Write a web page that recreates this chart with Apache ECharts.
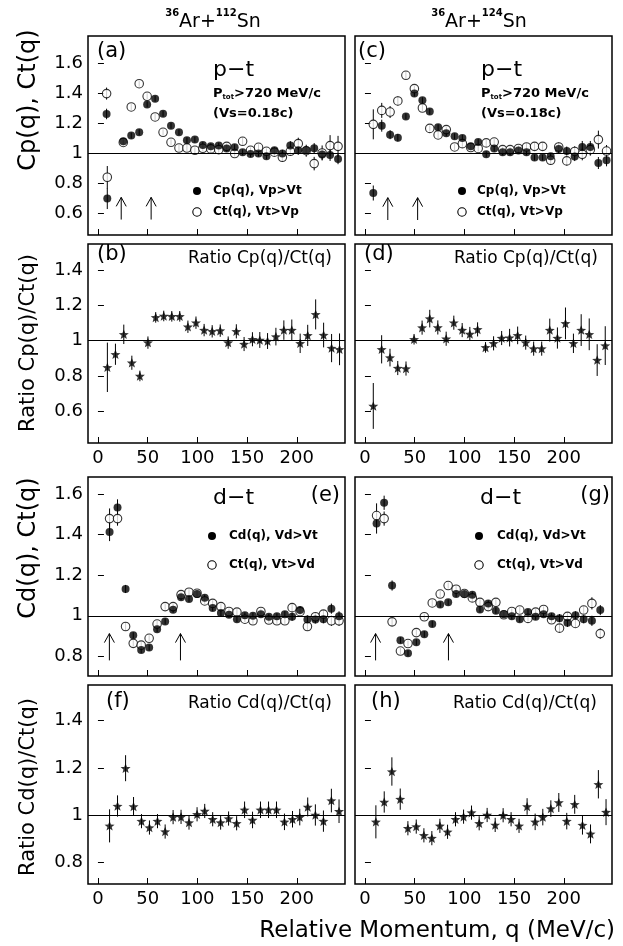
<!DOCTYPE html>
<html><head><meta charset="utf-8">
<script src="https://cdn.jsdelivr.net/npm/echarts@6/dist/echarts.min.js"></script>
<style>html,body{margin:0;padding:0;background:#fff}#c{width:623px;height:946px}</style>
</head><body><div id="c"></div>
<script>
// ---------------- data ----------------
const xTicks = [0, 50, 100, 150, 200];
const yTicksPT = [0.6, 0.8, 1, 1.2, 1.4, 1.6];
const yTicksPTratio = [0.6, 0.8, 1, 1.2, 1.4];
const yTicksDT = [0.8, 1, 1.2, 1.4, 1.6];
const yTicksDTratio = [0.8, 1, 1.2, 1.4];

// (a) 36Ar+112Sn  p-t
const qA = [9.4, 8.7, 25.5, 33.5, 41.5, 49.5, 57.5, 65.5, 73.5, 81.5, 89.5, 97.5, 105.5, 113.5, 121.5, 129.5, 137.5, 145.5, 153.5, 161.5, 169.5, 177.5, 185.5, 193.5, 201.5, 209.5, 217.5, 225.5, 233.5, 241.5];
const cpA = [0.696, 1.26, 1.078, 1.116, 1.138, 1.324, 1.362, 1.262, 1.182, 1.138, 1.084, 1.089, 1.053, 1.044, 1.049, 1.029, 1.038, 1.004, 0.993, 0.996, 0.978, 1.018, 0.996, 1.049, 1.018, 1.018, 1.031, 0.989, 0.987, 0.96];
const cpAerr = [0.07, 0.035, 0.02, 0.02, 0.02, 0.02, 0.02, 0.02, 0.02, 0.02, 0.02, 0.02, 0.02, 0.02, 0.02, 0.02, 0.02, 0.02, 0.02, 0.02, 0.02, 0.02, 0.025, 0.03, 0.03, 0.03, 0.035, 0.035, 0.04, 0.035];
const ctA = [0.838, 1.396, 1.07, 1.307, 1.462, 1.378, 1.24, 1.138, 1.071, 1.033, 1.033, 1.018, 1.031, 1.027, 1.022, 1.044, 0.996, 1.078, 1.018, 1.038, 1.011, 1.005, 0.971, 1.011, 1.062, 1.015, 0.929, 1.0, 1.049, 1.044];
const ctAerr = [0.075, 0.04, 0.02, 0.02, 0.02, 0.02, 0.02, 0.02, 0.02, 0.02, 0.02, 0.02, 0.02, 0.02, 0.02, 0.02, 0.02, 0.025, 0.02, 0.02, 0.02, 0.025, 0.03, 0.03, 0.04, 0.04, 0.045, 0.05, 0.07, 0.07];

// (c) 36Ar+124Sn  p-t
const qC = [8.4, 16.9, 25.3, 33.1, 41.2, 49.7, 57.8, 65.2, 73.6, 81.8, 90.2, 98, 106.4, 113.9, 122, 130, 138.5, 146, 154.4, 162.5, 170.6, 178.7, 186.8, 194.9, 203, 211, 218.6, 226.7, 234.8, 243];
const cpC = [0.733, 1.182, 1.122, 1.102, 1.244, 1.396, 1.351, 1.276, 1.171, 1.131, 1.111, 1.1, 1.044, 1.073, 0.991, 1.029, 1.004, 1.004, 1.016, 1.004, 0.969, 0.969, 0.978, 1.027, 1.013, 0.976, 1.04, 1.04, 0.933, 0.951];
const cpCerr = [0.05, 0.04, 0.03, 0.025, 0.02, 0.02, 0.02, 0.02, 0.02, 0.02, 0.02, 0.02, 0.02, 0.02, 0.02, 0.02, 0.02, 0.02, 0.02, 0.02, 0.02, 0.02, 0.02, 0.03, 0.03, 0.03, 0.04, 0.04, 0.04, 0.04];
const ctC = [1.191, 1.284, 1.273, 1.347, 1.518, 1.429, 1.3, 1.164, 1.12, 1.156, 1.04, 1.062, 1.036, 1.03, 1.067, 1.073, 1.022, 1.022, 1.03, 1.04, 1.044, 1.044, 0.951, 1.04, 0.947, 1.01, 0.991, 1.022, 1.089, 1.013];
const ctCerr = [0.1, 0.05, 0.04, 0.03, 0.025, 0.02, 0.02, 0.02, 0.02, 0.02, 0.02, 0.02, 0.02, 0.02, 0.02, 0.02, 0.02, 0.02, 0.02, 0.025, 0.025, 0.025, 0.03, 0.03, 0.03, 0.035, 0.04, 0.04, 0.06, 0.04];

// (b) ratio Cp/Ct, 112Sn
const qB = [9.5, 17.6, 26, 34.1, 42.2, 50.3, 58.1, 66.2, 74.3, 82.3, 90.5, 98.6, 106.8, 114.9, 123, 131, 139.2, 147, 155.4, 162.8, 170.6, 179, 187, 195, 203.4, 211, 219, 227, 235, 243];
const ratioB = [0.849, 0.923, 1.036, 0.875, 0.8, 0.989, 1.132, 1.14, 1.138, 1.138, 1.079, 1.102, 1.06, 1.053, 1.057, 0.989, 1.053, 0.981, 1.008, 1.004, 0.998, 1.023, 1.06, 1.06, 0.985, 1.03, 1.149, 1.032, 0.958, 0.951];
const ratioBerr = [0.14, 0.06, 0.055, 0.04, 0.03, 0.035, 0.03, 0.03, 0.03, 0.03, 0.035, 0.035, 0.035, 0.035, 0.035, 0.035, 0.04, 0.04, 0.04, 0.045, 0.045, 0.05, 0.055, 0.06, 0.055, 0.06, 0.085, 0.07, 0.08, 0.09];

// (d) ratio Cp/Ct, 124Sn
const qD = [8.4, 16.8, 25.2, 33, 41.3, 49.4, 57.5, 65.2, 73.3, 81.7, 89.4, 97.8, 105.5, 113.3, 121.3, 129.4, 137.5, 145.5, 153.6, 161.7, 169.7, 177.8, 185.9, 193.6, 201.7, 209.7, 217.5, 225.6, 233.6, 241.7];
const ratioD = [0.63, 0.951, 0.904, 0.845, 0.842, 1.008, 1.074, 1.125, 1.075, 1.011, 1.102, 1.06, 1.038, 1.064, 0.962, 0.985, 1.015, 1.017, 1.03, 0.989, 0.955, 0.955, 1.06, 1.015, 1.098, 0.985, 1.06, 1.036, 0.89, 0.972];
const ratioDerr = [0.13, 0.08, 0.05, 0.04, 0.04, 0.03, 0.04, 0.05, 0.04, 0.04, 0.04, 0.04, 0.04, 0.04, 0.03, 0.04, 0.04, 0.05, 0.05, 0.04, 0.04, 0.04, 0.065, 0.06, 0.09, 0.055, 0.09, 0.09, 0.09, 0.11];

// (e) 36Ar+112Sn  d-t
const qE = [11.7, 19.7, 27.8, 35.5, 43.5, 51.5, 59.5, 67.6, 75.6, 83.6, 91.6, 99.7, 107.4, 115.4, 123.7, 131.8, 139.8, 147.8, 155.9, 163.9, 171.9, 180, 188, 195.3, 203.3, 210.7, 218.7, 226.8, 234.8, 242.5];
const cdE = [1.413, 1.534, 1.132, 0.904, 0.831, 0.843, 0.934, 0.972, 1.03, 1.091, 1.083, 1.107, 1.089, 1.038, 1.013, 1.005, 0.983, 1.002, 1.0, 1.008, 0.995, 0.997, 1.008, 0.995, 1.028, 0.982, 0.982, 0.983, 1.035, 0.997];
const cdEerr = [0.045, 0.04, 0.02, 0.015, 0.015, 0.015, 0.015, 0.015, 0.015, 0.015, 0.015, 0.015, 0.015, 0.015, 0.015, 0.015, 0.015, 0.015, 0.015, 0.015, 0.015, 0.015, 0.015, 0.02, 0.02, 0.02, 0.02, 0.02, 0.025, 0.025];
const ctE = [1.479, 1.479, 0.947, 0.864, 0.855, 0.889, 0.959, 1.045, 1.045, 1.104, 1.116, 1.111, 1.073, 1.061, 1.045, 1.021, 1.018, 0.983, 0.975, 1.021, 0.979, 0.975, 0.975, 1.04, 1.02, 0.947, 0.995, 1.008, 0.975, 0.975];
const ctEerr = [0.05, 0.035, 0.02, 0.015, 0.015, 0.015, 0.015, 0.015, 0.015, 0.015, 0.015, 0.015, 0.015, 0.015, 0.015, 0.015, 0.015, 0.015, 0.015, 0.015, 0.015, 0.015, 0.015, 0.02, 0.02, 0.02, 0.02, 0.02, 0.025, 0.025];

// (g) 36Ar+124Sn  d-t
const qG = [11.7, 19.3, 27.3, 35.7, 43.3, 51.7, 59.7, 67.7, 75.7, 83.7, 91.7, 100, 108, 115.7, 124, 131.7, 139.7, 147.7, 155.7, 164, 171.7, 179.7, 187.7, 195.7, 203.7, 211.7, 220, 228.3, 236.7];
const cdG = [1.455, 1.557, 1.149, 0.879, 0.815, 0.869, 0.909, 0.959, 1.055, 1.066, 1.107, 1.107, 1.104, 1.031, 1.061, 1.025, 1.008, 0.997, 0.983, 1.018, 0.995, 1.008, 0.998, 0.988, 0.965, 1.002, 0.983, 0.975, 1.028];
const cdGerr = [0.05, 0.035, 0.025, 0.015, 0.015, 0.015, 0.015, 0.015, 0.015, 0.015, 0.015, 0.015, 0.015, 0.015, 0.015, 0.015, 0.015, 0.015, 0.015, 0.015, 0.015, 0.015, 0.015, 0.02, 0.02, 0.02, 0.02, 0.025, 0.025];
const ctG = [1.494, 1.479, 0.97, 0.826, 0.863, 0.917, 0.995, 1.063, 1.107, 1.149, 1.131, 1.11, 1.088, 1.066, 1.045, 1.066, 1.005, 1.021, 1.028, 0.987, 1.018, 1.031, 0.98, 0.939, 0.997, 0.962, 1.028, 1.061, 0.912];
const ctGerr = [0.06, 0.035, 0.02, 0.015, 0.015, 0.015, 0.015, 0.015, 0.015, 0.015, 0.015, 0.015, 0.015, 0.015, 0.015, 0.015, 0.015, 0.015, 0.015, 0.015, 0.015, 0.015, 0.015, 0.02, 0.02, 0.02, 0.02, 0.03, 0.025];

// (f) ratio Cd/Ct, 112Sn
const qF = [11.7, 19.7, 27.8, 35.8, 43.8, 51.8, 59.9, 67.6, 75.6, 83.6, 91.6, 99.7, 107.4, 115.4, 123.4, 131.4, 139.5, 147.5, 155.5, 163.5, 171.6, 179.6, 187.6, 195.7, 203, 211, 218.7, 226.8, 234.8, 242.5];
const ratioF = [0.955, 1.039, 1.199, 1.037, 0.975, 0.948, 0.975, 0.931, 0.992, 0.993, 0.969, 1.004, 1.018, 0.983, 0.969, 0.986, 0.966, 1.023, 0.98, 1.023, 1.023, 1.023, 0.972, 0.983, 0.992, 1.035, 1.001, 0.975, 1.062, 1.017];
const ratioFerr = [0.07, 0.045, 0.055, 0.04, 0.03, 0.03, 0.03, 0.03, 0.03, 0.03, 0.03, 0.03, 0.03, 0.03, 0.03, 0.03, 0.03, 0.035, 0.035, 0.035, 0.035, 0.035, 0.035, 0.035, 0.035, 0.04, 0.045, 0.045, 0.05, 0.05];

// (h) ratio Cd/Ct, 124Sn
const qH = [11, 19.4, 27.1, 35.5, 43.2, 51.6, 59.3, 67.3, 75.4, 83.1, 91.1, 99.2, 107.2, 114.9, 122.9, 131, 139, 147, 155, 163.1, 171.2, 178.9, 187, 195, 203, 211, 218.8, 226.9, 234.8, 242.5];
const ratioH = [0.972, 1.056, 1.185, 1.068, 0.945, 0.952, 0.915, 0.903, 0.955, 0.93, 0.983, 0.994, 1.011, 0.966, 1.001, 0.959, 1.0, 0.983, 0.955, 1.037, 0.972, 0.992, 1.028, 1.054, 0.975, 1.046, 0.958, 0.921, 1.131, 1.013];
const ratioHerr = [0.07, 0.045, 0.06, 0.045, 0.03, 0.03, 0.03, 0.03, 0.03, 0.03, 0.03, 0.03, 0.03, 0.03, 0.03, 0.03, 0.03, 0.03, 0.03, 0.035, 0.035, 0.035, 0.035, 0.04, 0.035, 0.04, 0.04, 0.04, 0.06, 0.055];

// arrows: [q, y from, y to]
const arrowsA = [[23.4, 0.556, 0.704], [53.5, 0.556, 0.704]];
const arrowsC = [[23, 0.553, 0.702], [53, 0.553, 0.702]];
const arrowsE = [[11.5, 0.78, 0.912], [83, 0.78, 0.912]];
const arrowsG = [[10.7, 0.78, 0.912], [84, 0.78, 0.912]];

// ---------------- chart ----------------
const FONT = 'DejaVu Sans';
const X_MIN = -10, X_MAX = 248.5;
const STAR = 'path://M0,-10 L2.6,-3.4 L9.51,-3.09 L4.1,1.3 L5.88,8.09 L0,4.3 L-5.88,8.09 L-4.1,1.3 L-9.51,-3.09 L-2.6,-3.4 Z';

// grid boxes: a, c, b, d, e, g, f, h
const W = 257, H = 199;
const gridPos = [[88, 36], [355, 36], [88, 244], [355, 244], [88, 477], [355, 477], [88, 685], [355, 685]];
const yRange = [[0.453, 1.78], [0.453, 1.78], [0.42, 1.548], [0.42, 1.548], [0.703, 1.684], [0.703, 1.684], [0.709, 1.551], [0.709, 1.551]];
const yTk = [yTicksPT, yTicksPT, yTicksPTratio, yTicksPTratio, yTicksDT, yTicksDT, yTicksDTratio, yTicksDTratio];
const xLab = [false, false, true, true, false, false, true, true];

const grids = gridPos.map(p => ({left: p[0], top: p[1], width: W, height: H, show: true, borderColor: '#000', borderWidth: 1.5, backgroundColor: 'transparent', containLabel: false}));
const xAxes = gridPos.map((p, i) => ({
  type: 'value', gridIndex: i, min: X_MIN, max: X_MAX,
  axisLine: {show: false}, splitLine: {show: false},
  axisTick: {show: true, inside: true, length: 6, customValues: xTicks, lineStyle: {color: '#000', width: 1}},
  axisLabel: {show: xLab[i], customValues: xTicks, color: '#000', fontSize: 18, fontFamily: FONT, margin: 6}
}));
const yAxes = gridPos.map((p, i) => ({
  type: 'value', gridIndex: i, min: yRange[i][0], max: yRange[i][1],
  axisLine: {show: false}, splitLine: {show: false},
  axisTick: {show: true, inside: true, length: 6, customValues: yTk[i], lineStyle: {color: '#000', width: 1}},
  axisLabel: {show: i % 2 === 0, customValues: yTk[i], color: '#000', fontSize: 18, fontFamily: FONT, margin: 5,
    formatter: v => String(Math.round(v * 10) / 10)}
}));

function errSeries(gi, q, v, e, withLine) {
  const s = {
    type: 'custom', xAxisIndex: gi, yAxisIndex: gi, silent: true, z: 2, clip: true,
    data: q.map((x, i) => [x, v[i] - e[i], v[i] + e[i]]),
    encode: {x: 0, y: [1, 2]},
    renderItem: (params, api) => {
      const p1 = api.coord([api.value(0), api.value(1)]);
      const p2 = api.coord([api.value(0), api.value(2)]);
      return {type: 'line', shape: {x1: p1[0], y1: p1[1], x2: p2[0], y2: p2[1]}, style: {stroke: '#000', lineWidth: 1}};
    }
  };
  if (withLine) {
    s.markLine = {silent: true, symbol: 'none', label: {show: false}, animation: false,
      lineStyle: {color: '#000', width: 1.2, type: 'solid'}, data: [{yAxis: 1}]};
  }
  return s;
}
function pts(gi, q, v, kind) {
  const base = {type: 'scatter', xAxisIndex: gi, yAxisIndex: gi, silent: true, data: q.map((x, i) => [x, v[i]])};
  if (kind === 'fill') return Object.assign(base, {symbol: 'circle', symbolSize: 8, itemStyle: {color: '#000'}, z: 4});
  if (kind === 'open') return Object.assign(base, {symbol: 'circle', symbolSize: 8.5, itemStyle: {color: '#fff', borderColor: '#000', borderWidth: 1.1}, z: 3});
  return Object.assign(base, {symbol: STAR, symbolKeepAspect: true, symbolSize: 10, itemStyle: {color: '#000'}, z: 4});
}
function arrows(gi, list) {
  return {
    type: 'custom', xAxisIndex: gi, yAxisIndex: gi, silent: true, z: 2,
    data: list, encode: {x: 0, y: [1, 2]},
    renderItem: (params, api) => {
      const b = api.coord([api.value(0), api.value(1)]);
      const t = api.coord([api.value(0), api.value(2)]);
      const st = {stroke: '#000', lineWidth: 1};
      return {type: 'group', children: [
        {type: 'line', shape: {x1: b[0], y1: b[1], x2: t[0], y2: t[1]}, style: st},
        {type: 'line', shape: {x1: t[0], y1: t[1], x2: t[0] - 5, y2: t[1] + 9}, style: st},
        {type: 'line', shape: {x1: t[0], y1: t[1], x2: t[0] + 5, y2: t[1] + 9}, style: st}
      ]};
    }
  };
}

const series = [
  // (a)
  errSeries(0, qA, ctA, ctAerr, true), errSeries(0, qA, cpA, cpAerr, false),
  pts(0, qA, ctA, 'open'), pts(0, qA, cpA, 'fill'), arrows(0, arrowsA),
  // (c)
  errSeries(1, qC, ctC, ctCerr, true), errSeries(1, qC, cpC, cpCerr, false),
  pts(1, qC, ctC, 'open'), pts(1, qC, cpC, 'fill'), arrows(1, arrowsC),
  // (b)
  errSeries(2, qB, ratioB, ratioBerr, true), pts(2, qB, ratioB, 'star'),
  // (d)
  errSeries(3, qD, ratioD, ratioDerr, true), pts(3, qD, ratioD, 'star'),
  // (e)
  errSeries(4, qE, ctE, ctEerr, true), errSeries(4, qE, cdE, cdEerr, false),
  pts(4, qE, ctE, 'open'), pts(4, qE, cdE, 'fill'), arrows(4, arrowsE),
  // (g)
  errSeries(5, qG, ctG, ctGerr, true), errSeries(5, qG, cdG, cdGerr, false),
  pts(5, qG, ctG, 'open'), pts(5, qG, cdG, 'fill'), arrows(5, arrowsG),
  // (f)
  errSeries(6, qF, ratioF, ratioFerr, true), pts(6, qF, ratioF, 'star'),
  // (h)
  errSeries(7, qH, ratioH, ratioHerr, true), pts(7, qH, ratioH, 'star')
];

// ---------------- text ----------------
function txt(x, y, text, size, opts) {
  opts = opts || {};
  return {type: 'text', x: x, y: y, silent: true, rotation: opts.rot || 0, z: 10,
    style: {text: text, fontSize: size, fontFamily: FONT, fontWeight: opts.bold ? 'bold' : 'normal', fill: '#000',
      align: opts.align || 'left', verticalAlign: opts.va || 'middle', rich: opts.rich}};
}
const supRich = {
  b: {fontSize: 19, fontFamily: FONT, lineHeight: 24, verticalAlign: 'bottom'},
  s: {fontSize: 10, fontFamily: FONT, fontWeight: 'bold', lineHeight: 24, verticalAlign: 'top'}
};
const subRich = {
  n: {fontSize: 13, fontFamily: FONT, fontWeight: 'bold'},
  t: {fontSize: 7, fontFamily: FONT, fontWeight: 'bold', verticalAlign: 'bottom', padding: [6, 0, 0, 0]}
};
const graphics = [
  txt(213, 20, '{s|36}{b|Ar+}{s|112}{b|Sn}', 19, {align: 'center', rich: supRich}),
  txt(479, 20, '{s|36}{b|Ar+}{s|124}{b|Sn}', 19, {align: 'center', rich: supRich}),
  // y titles
  txt(29, 100, 'Cp(q), Ct(q)', 24, {align: 'center', rot: Math.PI / 2}),
  txt(29, 343, 'Ratio Cp(q)/Ct(q)', 21, {align: 'center', rot: Math.PI / 2}),
  txt(29, 548, 'Cd(q), Ct(q)', 24, {align: 'center', rot: Math.PI / 2}),
  txt(29, 787, 'Ratio Cd(q)/Ct(q)', 21, {align: 'center', rot: Math.PI / 2}),
  // x title
  txt(615, 931, 'Relative Momentum, q (MeV/c)', 23, {align: 'right'}),
  // panel (a)
  txt(97, 52, '(a)', 21), txt(213, 70, 'p\u2212t', 22),
  txt(213, 94, '{n|P}{t|tot}{n|>720 MeV/c}', 13, {rich: subRich}),
  txt(213, 114, '(Vs=0.18c)', 13, {bold: true}),
  txt(213, 191, 'Cp(q), Vp>Vt', 12, {bold: true}),
  txt(213, 212, 'Ct(q), Vt>Vp', 12, {bold: true}),
  // panel (c)
  txt(358, 52, '(c)', 21), txt(481, 70, 'p\u2212t', 22),
  txt(481, 94, '{n|P}{t|tot}{n|>720 MeV/c}', 13, {rich: subRich}),
  txt(481, 114, '(Vs=0.18c)', 13, {bold: true}),
  txt(477, 191, 'Cp(q), Vp>Vt', 12, {bold: true}),
  txt(477, 212, 'Ct(q), Vt>Vp', 12, {bold: true}),
  // panel (b), (d)
  txt(97, 255, '(b)', 21), txt(332, 259, 'Ratio Cp(q)/Ct(q)', 17, {align: 'right'}),
  txt(364, 255, '(d)', 21), txt(598, 259, 'Ratio Cp(q)/Ct(q)', 17, {align: 'right'}),
  // panel (e)
  txt(340, 496, '(e)', 21, {align: 'right'}), txt(213, 498, 'd\u2212t', 22),
  txt(229, 536, 'Cd(q), Vd>Vt', 12, {bold: true}),
  txt(229, 565, 'Ct(q), Vt>Vd', 12, {bold: true}),
  // panel (g)
  txt(610, 496, '(g)', 21, {align: 'right'}), txt(480, 498, 'd\u2212t', 22),
  txt(497, 536, 'Cd(q), Vd>Vt', 12, {bold: true}),
  txt(497, 565, 'Ct(q), Vt>Vd', 12, {bold: true}),
  // panel (f), (h)
  txt(106, 702, '(f)', 21), txt(332, 704, 'Ratio Cd(q)/Ct(q)', 17, {align: 'right'}),
  txt(371, 702, '(h)', 21), txt(597, 704, 'Ratio Cd(q)/Ct(q)', 17, {align: 'right'}),
  // legend symbols
  {type: 'circle', shape: {cx: 197, cy: 191, r: 4}, style: {fill: '#000'}, silent: true, z: 10},
  {type: 'circle', shape: {cx: 197, cy: 212, r: 4.2}, style: {fill: '#fff', stroke: '#000', lineWidth: 1.1}, silent: true, z: 10},
  {type: 'circle', shape: {cx: 462, cy: 191, r: 4}, style: {fill: '#000'}, silent: true, z: 10},
  {type: 'circle', shape: {cx: 462, cy: 212, r: 4.2}, style: {fill: '#fff', stroke: '#000', lineWidth: 1.1}, silent: true, z: 10},
  {type: 'circle', shape: {cx: 212, cy: 536, r: 4}, style: {fill: '#000'}, silent: true, z: 10},
  {type: 'circle', shape: {cx: 212, cy: 565, r: 4.2}, style: {fill: '#fff', stroke: '#000', lineWidth: 1.1}, silent: true, z: 10},
  {type: 'circle', shape: {cx: 479, cy: 536, r: 4}, style: {fill: '#000'}, silent: true, z: 10},
  {type: 'circle', shape: {cx: 479, cy: 565, r: 4.2}, style: {fill: '#fff', stroke: '#000', lineWidth: 1.1}, silent: true, z: 10}
];

const chart = echarts.init(document.getElementById('c'), null, {renderer: 'canvas'});
chart.setOption({
  animation: false,
  backgroundColor: '#fff',
  grid: grids, xAxis: xAxes, yAxis: yAxes,
  series: series,
  graphic: graphics
});
</script>
</body></html>
